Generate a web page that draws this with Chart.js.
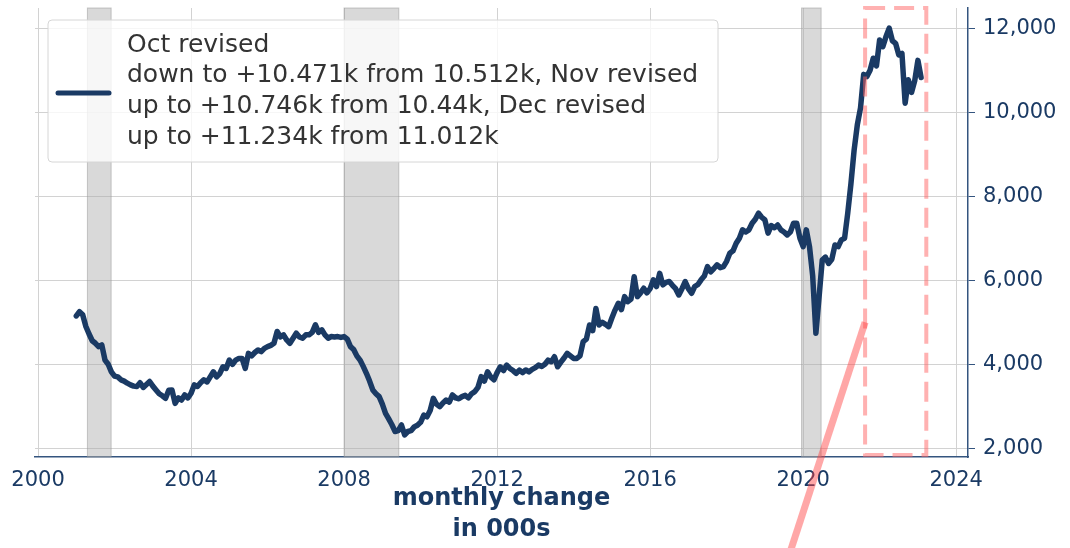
<!DOCTYPE html>
<html>
<head>
<meta charset="utf-8">
<script src="https://cdn.jsdelivr.net/npm/chart.js@4.4.0/dist/chart.umd.min.js"></script>
<style>
  html, body { margin: 0; padding: 0; background: #fff; }
</style>
</head>
<body>
<canvas id="grafico" width="1070" height="548"></canvas>
<script>
// job openings (000s), monthly, first value is Dec 2000, last is Jan 2023
const primeiroMes = 2001.0; // Dec 2000 plotted at end of month
const aberturas = [
  5150,
  5250, 5180, 4900, 4720, 4560, 4500, 4420, 4460, 4100, 4000, 3820, 3720, // 2001
  3700, 3630, 3600, 3550, 3510, 3480, 3470, 3560, 3450, 3520, 3590, 3480, // 2002
  3390, 3300, 3250, 3190, 3380, 3390, 3070, 3200, 3150, 3270, 3200, 3310, // 2003
  3510, 3470, 3560, 3630, 3580, 3700, 3820, 3700, 3780, 3940, 3900, 4100, // 2004
  4000, 4100, 4140, 4140, 3900, 4260, 4200, 4280, 4340, 4300, 4380, 4420, // 2005
  4450, 4500, 4780, 4650, 4700, 4580, 4500, 4620, 4740, 4650, 4620, 4700, // 2006
  4700, 4760, 4940, 4760, 4820, 4700, 4620, 4660, 4650, 4660, 4640, 4660, // 2007
  4600, 4420, 4350, 4200, 4100, 3950, 3785, 3600, 3390, 3300, 3230, 3050, // 2008
  2830, 2700, 2560, 2400, 2420, 2555, 2320, 2400, 2420, 2510, 2550, 2620, // 2009
  2790, 2750, 2900, 3190, 3050, 2990, 3080, 3150, 3100, 3270, 3200, 3180, // 2010
  3230, 3260, 3200, 3300, 3350, 3450, 3705, 3600, 3820, 3700, 3630, 3800, // 2011
  3940, 3850, 3980, 3900, 3850, 3785, 3860, 3800, 3865, 3820, 3880, 3920, // 2012
  3980, 3950, 4000, 4100, 4060, 4180, 3940, 4050, 4150, 4260, 4200, 4140, // 2013
  4140, 4200, 4540, 4600, 4935, 4800, 5330, 4935, 5000, 4950, 4895, 5100, // 2014
  5290, 5450, 5300, 5610, 5490, 5550, 6085, 5610, 5700, 5810, 5700, 5800, // 2015
  6010, 5850, 6165, 5890, 5950, 5970, 5880, 5800, 5650, 5800, 5970, 5800, // 2016
  5690, 5850, 5900, 6010, 6100, 6325, 6200, 6280, 6365, 6300, 6325, 6450, // 2017
  6645, 6700, 6880, 7000, 7200, 7150, 7200, 7355, 7450, 7595, 7500, 7435, // 2018
  7120, 7300, 7250, 7315, 7200, 7150, 7080, 7150, 7355, 7355, 7000, 6800, // 2019
  7200, 6800, 6100, 4740, 5600, 6480, 6550, 6400, 6500, 6840, 6800, 6960, // 2020
  7000, 7600, 8300, 9100, 9700, 10100, 10900, 10850, 11000, 11285, 11100, 11720, // 2021
  11560, 11800, 12000, 11700, 11640, 11365, 11400, 10215, 10770, 10471, 10746, 11234, // 2022
  10824 // Jan 2023
];

// recessions (start, end) in decimal years
const recessoes = [
  [2001.29, 2001.91],
  [2008.0, 2009.43],
  [2019.96, 2020.47]
];

// highlighted window (dashed box) and pointer line
const caixaX = [2021.62, 2023.22];
const caixaY = [1840, 12480];
const setaX = [2019.47, 2021.62];
const setaY = [-1000, 5000];

const ticksX = [2000, 2004, 2008, 2012, 2016, 2020, 2024];
const ticksY = [2000, 4000, 6000, 8000, 10000, 12000];

const textoLegenda = [
  'Oct revised',
  'down to +10.471k from 10.512k, Nov revised',
  'up to +10.746k from 10.44k, Dec revised',
  'up to +11.234k from 11.012k'
];
const tituloX = ['monthly change', 'in 000s'];

const azul = '#1a3a64';
const azulEixo = '#34557f';
const fonte = '"DejaVu Sans", sans-serif';

const pontos = aberturas.map((v, i) => ({ x: primeiroMes + i / 12, y: v }));

// recession bands, drawn over the grid but under the line
const faixas = {
  id: 'faixas',
  beforeDatasetsDraw(chart) {
    const { ctx, chartArea, scales } = chart;
    ctx.save();
    recessoes.forEach(r => {
      const x1 = scales.x.getPixelForValue(r[0]);
      const x2 = scales.x.getPixelForValue(r[1]);
      ctx.fillStyle = 'rgba(170,170,170,0.45)';
      ctx.fillRect(x1, chartArea.top, x2 - x1, chartArea.bottom - chartArea.top);
      ctx.strokeStyle = 'rgba(150,150,150,0.5)';
      ctx.lineWidth = 1;
      ctx.strokeRect(x1, chartArea.top, x2 - x1, chartArea.bottom - chartArea.top);
    });
    ctx.restore();
  }
};

// dashed box, pointer line and the legend box
const extras = {
  id: 'extras',
  afterDatasetsDraw(chart) {
    const { ctx, scales } = chart;
    const sx = scales.x, sy = scales.y;
    ctx.save();

    // dashed box
    ctx.strokeStyle = 'rgba(255,100,100,0.5)';
    ctx.lineWidth = 4;
    ctx.setLineDash([20, 9]);
    const bx1 = sx.getPixelForValue(caixaX[0]), bx2 = sx.getPixelForValue(caixaX[1]);
    const by1 = sy.getPixelForValue(caixaY[1]), by2 = sy.getPixelForValue(caixaY[0]);
    ctx.strokeRect(bx1, by1, bx2 - bx1, by2 - by1);
    ctx.setLineDash([]);

    // pointer line
    ctx.strokeStyle = 'rgba(255,60,60,0.45)';
    ctx.lineWidth = 7;
    ctx.beginPath();
    ctx.moveTo(sx.getPixelForValue(setaX[0]), sy.getPixelForValue(setaY[0]));
    ctx.lineTo(sx.getPixelForValue(setaX[1]), sy.getPixelForValue(setaY[1]));
    ctx.stroke();

    // legend
    const lx = 48, ly = 20, lw = 670, lh = 142, rad = 4;
    ctx.beginPath();
    ctx.moveTo(lx + rad, ly);
    ctx.arcTo(lx + lw, ly, lx + lw, ly + lh, rad);
    ctx.arcTo(lx + lw, ly + lh, lx, ly + lh, rad);
    ctx.arcTo(lx, ly + lh, lx, ly, rad);
    ctx.arcTo(lx, ly, lx + lw, ly, rad);
    ctx.closePath();
    ctx.fillStyle = 'rgba(255,255,255,0.8)';
    ctx.fill();
    ctx.strokeStyle = '#d6d6d6';
    ctx.lineWidth = 1;
    ctx.stroke();

    ctx.strokeStyle = azul;
    ctx.lineWidth = 5;
    ctx.lineCap = 'round';
    ctx.beginPath();
    ctx.moveTo(58, 93);
    ctx.lineTo(109, 93);
    ctx.stroke();

    ctx.fillStyle = '#333333';
    ctx.font = '25px ' + fonte;
    ctx.textBaseline = 'alphabetic';
    textoLegenda.forEach((t, i) => ctx.fillText(t, 127, 51.5 + i * 30.8));

    ctx.restore();
  }
};

const ctx = document.getElementById('grafico').getContext('2d');

new Chart(ctx, {
  type: 'line',
  data: {
    datasets: [{
      label: 'job openings',
      data: pontos,
      borderColor: azul,
      borderWidth: 5.5,
      pointRadius: 0,
      tension: 0,
      borderJoinStyle: 'round',
      borderCapStyle: 'round'
    }]
  },
  options: {
    responsive: false,
    animation: false,
    layout: { padding: { left: 35, top: 8, right: 0, bottom: 0 } },
    plugins: {
      legend: { display: false },
      tooltip: { enabled: false }
    },
    scales: {
      x: {
        type: 'linear',
        min: 1999.92,
        max: 2024.31,
        afterBuildTicks: s => { s.ticks = ticksX.map(v => ({ value: v })); },
        afterFit: s => { s.height = 91; s.paddingLeft = 0; s.paddingRight = 0; },
        ticks: {
          callback: v => String(v),
          color: azul,
          font: { family: fonte, size: 21 },
          padding: 7,
          maxRotation: 0
        },
        grid: { color: '#d2d2d2', lineWidth: 1, tickLength: 4, tickColor: 'rgba(0,0,0,0)' },
        border: { display: true, color: azulEixo, width: 1.5 },
        title: {
          display: true,
          text: tituloX,
          color: azul,
          font: { family: fonte, size: 24, weight: 'bold', lineHeight: 1.28 },
          padding: { top: 0, bottom: 3 }
        }
      },
      y: {
        position: 'right',
        min: 1793,
        max: 12480,
        afterBuildTicks: s => { s.ticks = ticksY.map(v => ({ value: v })); },
        afterFit: s => { s.width = 102; s.paddingTop = 0; s.paddingBottom = 0; },
        ticks: {
          callback: v => v.toLocaleString('en-US'),
          color: azul,
          font: { family: fonte, size: 21 },
          padding: 8
        },
        grid: { color: '#d2d2d2', lineWidth: 1, tickLength: 7, tickColor: azulEixo },
        border: { display: true, color: azulEixo, width: 1.5 }
      }
    }
  },
  plugins: [faixas, extras]
});
</script>
</body>
</html>
